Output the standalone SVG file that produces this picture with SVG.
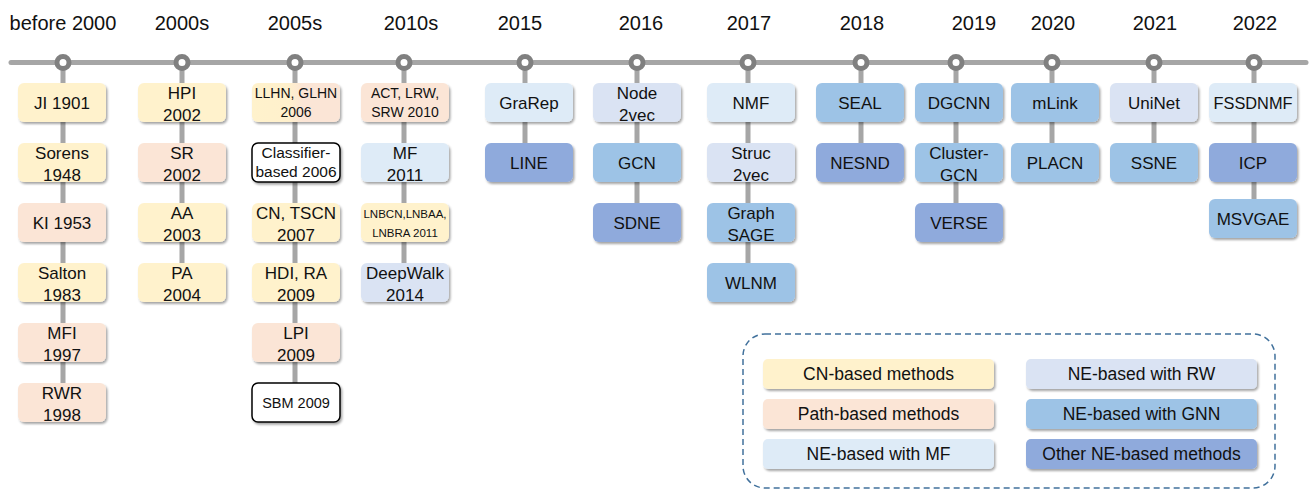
<svg xmlns="http://www.w3.org/2000/svg" width="1310" height="490" viewBox="0 0 1310 490">
<defs>
<filter id="sh" x="-10%" y="-20%" width="125%" height="150%">
<feDropShadow dx="1.5" dy="2" stdDeviation="1.3" flood-color="#000" flood-opacity="0.35"/>
</filter>
<linearGradient id="cnpath" x1="0" y1="0" x2="1" y2="0">
<stop offset="0" stop-color="#fff2cc"/>
<stop offset="0.42" stop-color="#fff0cc"/>
<stop offset="0.58" stop-color="#fbe5d6"/>
<stop offset="1" stop-color="#fbe5d6"/>
</linearGradient>
</defs>
<style>
text{font-family:"Liberation Sans",Arial,sans-serif;fill:#111;text-anchor:middle}
.yr{font-size:20px}
.b{font-size:17px}
.box{filter:url(#sh)}
.cn{fill:#fff2cc}
.path{fill:#fbe5d6}
.mf{fill:#deebf7}
.rw{fill:#dae3f3}
.gnn{fill:#9dc3e6}
.oth{fill:#8faadc}
.wh{fill:#fff;stroke:#000;stroke-width:1.5}
.lg{font-size:17.5px}
.vl{stroke:#a6a6a6;stroke-width:5;fill:none}
.dot{fill:#fff;stroke:#808080;stroke-width:5}
</style>
<rect width="1310" height="490" fill="#fff"/>

<g id="years">
<text class="yr" x="63" y="30">before 2000</text>
<text class="yr" x="182" y="30">2000s</text>
<text class="yr" x="295" y="30">2005s</text>
<text class="yr" x="411" y="30">2010s</text>
<text class="yr" x="520" y="30">2015</text>
<text class="yr" x="641" y="30">2016</text>
<text class="yr" x="749" y="30">2017</text>
<text class="yr" x="862" y="30">2018</text>
<text class="yr" x="974" y="30">2019</text>
<text class="yr" x="1053" y="30">2020</text>
<text class="yr" x="1155" y="30">2021</text>
<text class="yr" x="1255" y="30">2022</text>
</g>

<g id="connectors">
<line class="vl" x1="63" y1="62" x2="63" y2="402"/>
<line class="vl" x1="182" y1="62" x2="182" y2="282"/>
<line class="vl" x1="295" y1="62" x2="295" y2="402"/>
<line class="vl" x1="404" y1="62" x2="404" y2="282"/>
<line class="vl" x1="525" y1="62" x2="525" y2="162"/>
<line class="vl" x1="637" y1="62" x2="637" y2="222"/>
<line class="vl" x1="748" y1="62" x2="748" y2="282"/>
<line class="vl" x1="861" y1="62" x2="861" y2="162"/>
<line class="vl" x1="956" y1="62" x2="956" y2="222"/>
<line class="vl" x1="1052" y1="62" x2="1052" y2="162"/>
<line class="vl" x1="1154" y1="62" x2="1154" y2="162"/>
<line class="vl" x1="1254" y1="62" x2="1254" y2="218"/>
<line class="vl" x1="11" y1="62.5" x2="1306" y2="62.5" stroke-linecap="round"/>
<g id="ticks">
<circle class="dot" cx="63" cy="62.5" r="6"/>
<circle class="dot" cx="182" cy="62.5" r="6"/>
<circle class="dot" cx="295" cy="62.5" r="6"/>
<circle class="dot" cx="404" cy="62.5" r="6"/>
<circle class="dot" cx="525" cy="62.5" r="6"/>
<circle class="dot" cx="637" cy="62.5" r="6"/>
<circle class="dot" cx="748" cy="62.5" r="6"/>
<circle class="dot" cx="861" cy="62.5" r="6"/>
<circle class="dot" cx="956" cy="62.5" r="6"/>
<circle class="dot" cx="1052" cy="62.5" r="6"/>
<circle class="dot" cx="1154" cy="62.5" r="6"/>
<circle class="dot" cx="1254" cy="62.5" r="6"/>
</g>
</g>

<!-- before 2000 -->
<g id="n-ji"><rect class="box cn" x="18" y="83" width="88" height="39" rx="6"/><text class="b" x="62" y="108.5">JI 1901</text></g>
<g id="n-sorens"><rect class="box cn" x="18" y="143" width="88" height="39" rx="6"/><text class="b" x="62" y="159">Sorens<tspan x="62" y="181">1948</tspan></text></g>
<g id="n-ki"><rect class="box path" x="18" y="203" width="88" height="39" rx="6"/><text class="b" x="62" y="228.5">KI 1953</text></g>
<g id="n-salton"><rect class="box cn" x="18" y="263" width="88" height="39" rx="6"/><text class="b" x="62" y="279">Salton<tspan x="62" y="301">1983</tspan></text></g>
<g id="n-mfi"><rect class="box path" x="18" y="323" width="88" height="39" rx="6"/><text class="b" x="62" y="339">MFI<tspan x="62" y="361">1997</tspan></text></g>
<g id="n-rwr"><rect class="box path" x="18" y="383" width="88" height="39" rx="6"/><text class="b" x="62" y="399">RWR<tspan x="62" y="421">1998</tspan></text></g>

<!-- 2000s -->
<g id="n-hpi"><rect class="box cn" x="138" y="83" width="88" height="39" rx="6"/><text class="b" x="182" y="99">HPI<tspan x="182" y="121">2002</tspan></text></g>
<g id="n-sr"><rect class="box path" x="138" y="143" width="88" height="39" rx="6"/><text class="b" x="182" y="159">SR<tspan x="182" y="181">2002</tspan></text></g>
<g id="n-aa"><rect class="box cn" x="138" y="203" width="88" height="39" rx="6"/><text class="b" x="182" y="219">AA<tspan x="182" y="241">2003</tspan></text></g>
<g id="n-pa"><rect class="box cn" x="138" y="263" width="88" height="39" rx="6"/><text class="b" x="182" y="279">PA<tspan x="182" y="301">2004</tspan></text></g>

<!-- 2005s -->
<g id="n-llhn"><rect class="box" fill="url(#cnpath)" x="252" y="83" width="88" height="39" rx="6"/><text x="296" y="98" font-size="14">LLHN, GLHN<tspan x="296" y="117">2006</tspan></text></g>
<g id="n-classifier"><rect class="box wh" x="252" y="143" width="88" height="39" rx="6"/><text x="296" y="158" font-size="15.5">Classifier-<tspan x="296" y="177">based 2006</tspan></text></g>
<g id="n-cn"><rect class="box cn" x="252" y="203" width="88" height="39" rx="6"/><text class="b" x="296" y="219">CN, TSCN<tspan x="296" y="241">2007</tspan></text></g>
<g id="n-hdi"><rect class="box cn" x="252" y="263" width="88" height="39" rx="6"/><text class="b" x="296" y="279">HDI, RA<tspan x="296" y="301">2009</tspan></text></g>
<g id="n-lpi"><rect class="box path" x="252" y="323" width="88" height="39" rx="6"/><text class="b" x="296" y="339">LPI<tspan x="296" y="361">2009</tspan></text></g>
<g id="n-sbm"><rect class="box wh" x="252" y="383" width="88" height="39" rx="6"/><text x="296" y="407.5" font-size="14.5">SBM 2009</text></g>

<!-- 2010s -->
<g id="n-act"><rect class="box path" x="361" y="83" width="88" height="39" rx="6"/><text x="405" y="98" font-size="14">ACT, LRW,<tspan x="405" y="117">SRW 2010</tspan></text></g>
<g id="n-mf"><rect class="box mf" x="361" y="143" width="88" height="39" rx="6"/><text class="b" x="405" y="159">MF<tspan x="405" y="181">2011</tspan></text></g>
<g id="n-lnb"><rect class="box cn" x="361" y="203" width="88" height="39" rx="6"/><text x="405" y="218" font-size="11.5">LNBCN,LNBAA,<tspan x="405" y="237">LNBRA 2011</tspan></text></g>
<g id="n-deepwalk"><rect class="box rw" x="361" y="263" width="88" height="39" rx="6"/><text class="b" x="405" y="279">DeepWalk<tspan x="405" y="301">2014</tspan></text></g>

<!-- 2015 -->
<g id="n-grarep"><rect class="box mf" x="485" y="83" width="88" height="39" rx="6"/><text class="b" x="529" y="108.5">GraRep</text></g>
<g id="n-line"><rect class="box oth" x="485" y="143" width="88" height="39" rx="6"/><text class="b" x="529" y="168.5">LINE</text></g>

<!-- 2016 -->
<g id="n-node2vec"><rect class="box rw" x="593" y="83" width="88" height="39" rx="6"/><text class="b" x="637" y="99">Node<tspan x="637" y="121">2vec</tspan></text></g>
<g id="n-gcn"><rect class="box gnn" x="593" y="143" width="88" height="39" rx="6"/><text class="b" x="637" y="168.5">GCN</text></g>
<g id="n-sdne"><rect class="box oth" x="593" y="203" width="88" height="39" rx="6"/><text class="b" x="637" y="228.5">SDNE</text></g>

<!-- 2017 -->
<g id="n-nmf"><rect class="box mf" x="707" y="83" width="88" height="39" rx="6"/><text class="b" x="751" y="108.5">NMF</text></g>
<g id="n-struc2vec"><rect class="box rw" x="707" y="143" width="88" height="39" rx="6"/><text class="b" x="751" y="159">Struc<tspan x="751" y="181">2vec</tspan></text></g>
<g id="n-graphsage"><rect class="box gnn" x="707" y="203" width="88" height="39" rx="6"/><text class="b" x="751" y="219">Graph<tspan x="751" y="241">SAGE</tspan></text></g>
<g id="n-wlnm"><rect class="box gnn" x="707" y="263" width="88" height="39" rx="6"/><text class="b" x="751" y="288.5">WLNM</text></g>

<!-- 2018 -->
<g id="n-seal"><rect class="box gnn" x="816" y="83" width="88" height="39" rx="6"/><text class="b" x="860" y="108.5">SEAL</text></g>
<g id="n-nesnd"><rect class="box oth" x="816" y="143" width="88" height="39" rx="6"/><text class="b" x="860" y="168.5">NESND</text></g>

<!-- 2019 -->
<g id="n-dgcnn"><rect class="box gnn" x="915" y="83" width="88" height="39" rx="6"/><text class="b" x="959" y="108.5">DGCNN</text></g>
<g id="n-clustergcn"><rect class="box gnn" x="915" y="143" width="88" height="39" rx="6"/><text class="b" x="959" y="159">Cluster-<tspan x="959" y="181">GCN</tspan></text></g>
<g id="n-verse"><rect class="box oth" x="915" y="203" width="88" height="39" rx="6"/><text class="b" x="959" y="228.5">VERSE</text></g>

<!-- 2020 -->
<g id="n-mlink"><rect class="box gnn" x="1011" y="83" width="88" height="39" rx="6"/><text class="b" x="1055" y="108.5">mLink</text></g>
<g id="n-placn"><rect class="box gnn" x="1011" y="143" width="88" height="39" rx="6"/><text class="b" x="1055" y="168.5">PLACN</text></g>

<!-- 2021 -->
<g id="n-uninet"><rect class="box rw" x="1110" y="83" width="88" height="39" rx="6"/><text class="b" x="1154" y="108.5">UniNet</text></g>
<g id="n-ssne"><rect class="box gnn" x="1110" y="143" width="88" height="39" rx="6"/><text class="b" x="1154" y="168.5">SSNE</text></g>

<!-- 2022 -->
<g id="n-fssdnmf"><rect class="box mf" x="1209" y="83" width="88" height="39" rx="6"/><text class="b" x="1253" y="108.5" textLength="79" lengthAdjust="spacingAndGlyphs">FSSDNMF</text></g>
<g id="n-icp"><rect class="box oth" x="1209" y="143" width="88" height="39" rx="6"/><text class="b" x="1253" y="168.5">ICP</text></g>
<g id="n-msvgae"><rect class="box gnn" x="1209" y="199" width="88" height="39" rx="6"/><text class="b" x="1253" y="224.5">MSVGAE</text></g>

<!-- legend -->
<g id="legend">
<rect x="743" y="334" width="532" height="154" rx="22" fill="none" stroke="#41719c" stroke-width="1.5" stroke-dasharray="6 4"/>
<g id="lg-cn"><rect class="box cn" x="763" y="359" width="231" height="30" rx="5"/><text class="lg" x="878.5" y="380">CN-based methods</text></g>
<g id="lg-path"><rect class="box path" x="763" y="399" width="231" height="30" rx="5"/><text class="lg" x="878.5" y="420">Path-based methods</text></g>
<g id="lg-mf"><rect class="box mf" x="763" y="439" width="231" height="30" rx="5"/><text class="lg" x="878.5" y="460">NE-based with MF</text></g>
<g id="lg-rw"><rect class="box rw" x="1026" y="359" width="231" height="30" rx="5"/><text class="lg" x="1141.5" y="380">NE-based with RW</text></g>
<g id="lg-gnn"><rect class="box gnn" x="1026" y="399" width="231" height="30" rx="5"/><text class="lg" x="1141.5" y="420">NE-based with GNN</text></g>
<g id="lg-oth"><rect class="box oth" x="1026" y="439" width="231" height="30" rx="5"/><text class="lg" x="1141.5" y="460">Other NE-based methods</text></g>
</g>
</svg>
